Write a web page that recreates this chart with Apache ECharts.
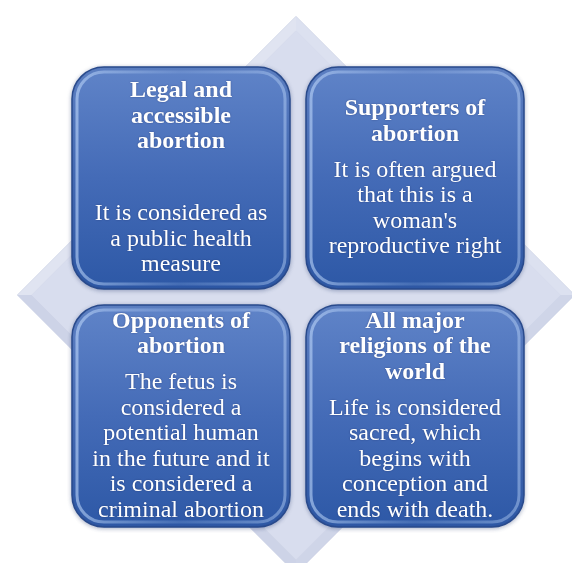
<!DOCTYPE html>
<html><head><meta charset="utf-8">
<script src="https://cdn.jsdelivr.net/npm/echarts@6/dist/echarts.min.js"></script>
<style>html,body{margin:0;padding:0;background:#fff}#c{width:572px;height:563px}</style>
</head><body><div id="c"></div>
<script>
// ---- data ----
const columns = ['left', 'right'];
const rowsCat = ['top', 'bottom'];
const titles = [
  'Legal and\naccessible\nabortion',
  'Supporters of\nabortion',
  'Opponents of\nabortion',
  'All major\nreligions of the\nworld'
];
const bodies = [
  ['', 'It is considered as\na public health\nmeasure'],
  ['It is often argued\nthat this is a\nwoman\'s\nreproductive right'],
  ['The fetus is\nconsidered a\npotential human\nin the future and it\nis considered a\ncriminal abortion'],
  ['Life is considered\nsacred, which\nbegins with\nconception and\nends with death.']
];
const cellCol = ['left', 'right', 'left', 'right'];
const cellRow = ['top', 'top', 'bottom', 'bottom'];

// ---- build ----
function buildText(i) {
  const parts = [];
  titles[i].split('\n').forEach(l => parts.push('{t|' + l + '}'));
  bodies[i].forEach(p => {
    parts.push('{g| }');
    if (p === '') parts.push('{b| }');
    else p.split('\n').forEach(l => parts.push('{b|' + l + '}'));
  });
  return parts.join('\n');
}
const FONT = '"Liberation Serif","Times New Roman",serif';
const rich = {
  t: { fontFamily: FONT, fontWeight: 'bold', fontSize: 24, lineHeight: 25.5, fill: '#fff' },
  b: { fontFamily: FONT, fontSize: 24, lineHeight: 25.5, fill: '#fff' },
  g: { fontSize: 1, lineHeight: 10.5, fill: '#fff' }
};

const chart = echarts.init(document.getElementById('c'), null, { renderer: 'canvas' });
const boxGrad = () => new echarts.graphic.LinearGradient(0, 0, 0, 1, [
  { offset: 0, color: '#6084c8' },
  { offset: 0.5, color: '#446bb7' },
  { offset: 1, color: '#2d58a6' }
]);
const rimGrad = () => new echarts.graphic.LinearGradient(0, 0, 1, 0, [
  { offset: 0, color: 'rgba(190,215,250,0.6)' },
  { offset: 0.5, color: 'rgba(160,190,235,0.2)' },
  { offset: 1, color: 'rgba(190,215,250,0.45)' }
]);

chart.setOption({
  animation: false,
  grid: { left: 64, top: 59, width: 468, height: 476 },
  xAxis: { type: 'category', data: columns, show: false },
  yAxis: { type: 'category', data: rowsCat, inverse: true, show: false },
  series: [
    {
      type: 'custom',
      silent: true,
      data: [[columns[0], rowsCat[0]]],
      renderItem(params, api) {
        const a = api.coord([0, 0]);
        const b = api.coord([1, 1]);
        const cx = (a[0] + b[0]) / 2 - 2, cy = (a[1] + b[1]) / 2 - 2;
        const s = api.size([1, 1]);
        const R = s[0] * 1.19;
        const r = R - 14;
        const O = [[cx, cy - R], [cx + R, cy], [cx, cy + R], [cx - R, cy]];
        const I = [[cx, cy - r], [cx + r, cy], [cx, cy + r], [cx - r, cy]];
        const facet = (p, q, col) => ({
          type: 'polygon', shape: { points: [O[p], O[q], I[q], I[p]] },
          style: { fill: col }
        });
        return {
          type: 'group', children: [
            { type: 'polygon', shape: { points: O }, style: { fill: '#d6dbec', stroke: '#c3cae0', lineWidth: 1 } },
            facet(0, 1, '#dce1f0'),
            facet(1, 2, '#cfd5e8'),
            facet(2, 3, '#cdd3e7'),
            facet(3, 0, '#e0e4f1'),
            { type: 'polygon', shape: { points: I }, style: { fill: '#d8ddee' } }
          ]
        };
      }
    },
    {
      type: 'custom',
      silent: true,
      data: titles.map((t, i) => [cellCol[i], cellRow[i]]),
      renderItem(params, api) {
        const i = params.dataIndex;
        const c = api.coord([api.value(0), api.value(1)]);
        const s = api.size([1, 1]);
        const w = s[0] - 16, h = s[1] - 16;
        const x = c[0] - w / 2, y = c[1] - h / 2;
        return {
          type: 'group', children: [
            { type: 'rect', shape: { x: x, y: y, width: w, height: h, r: 32 },
              style: { fill: boxGrad(), stroke: '#294a8c', lineWidth: 1.5,
                       shadowColor: 'rgba(40,60,110,0.35)', shadowBlur: 4, shadowOffsetY: 1 } },
            { type: 'rect', shape: { x: x + 5, y: y + 5, width: w - 10, height: h - 10, r: 27 },
              style: { fill: 'none', stroke: rimGrad(), lineWidth: 3 } },
            { type: 'text', style: {
                x: c[0], y: c[1], text: buildText(i), rich: rich,
                align: 'center', verticalAlign: 'middle', fill: '#fff',
                textShadowColor: 'rgba(0,0,40,0.35)', textShadowBlur: 2 } }
          ]
        };
      }
    }
  ]
});
</script>
</body></html>
